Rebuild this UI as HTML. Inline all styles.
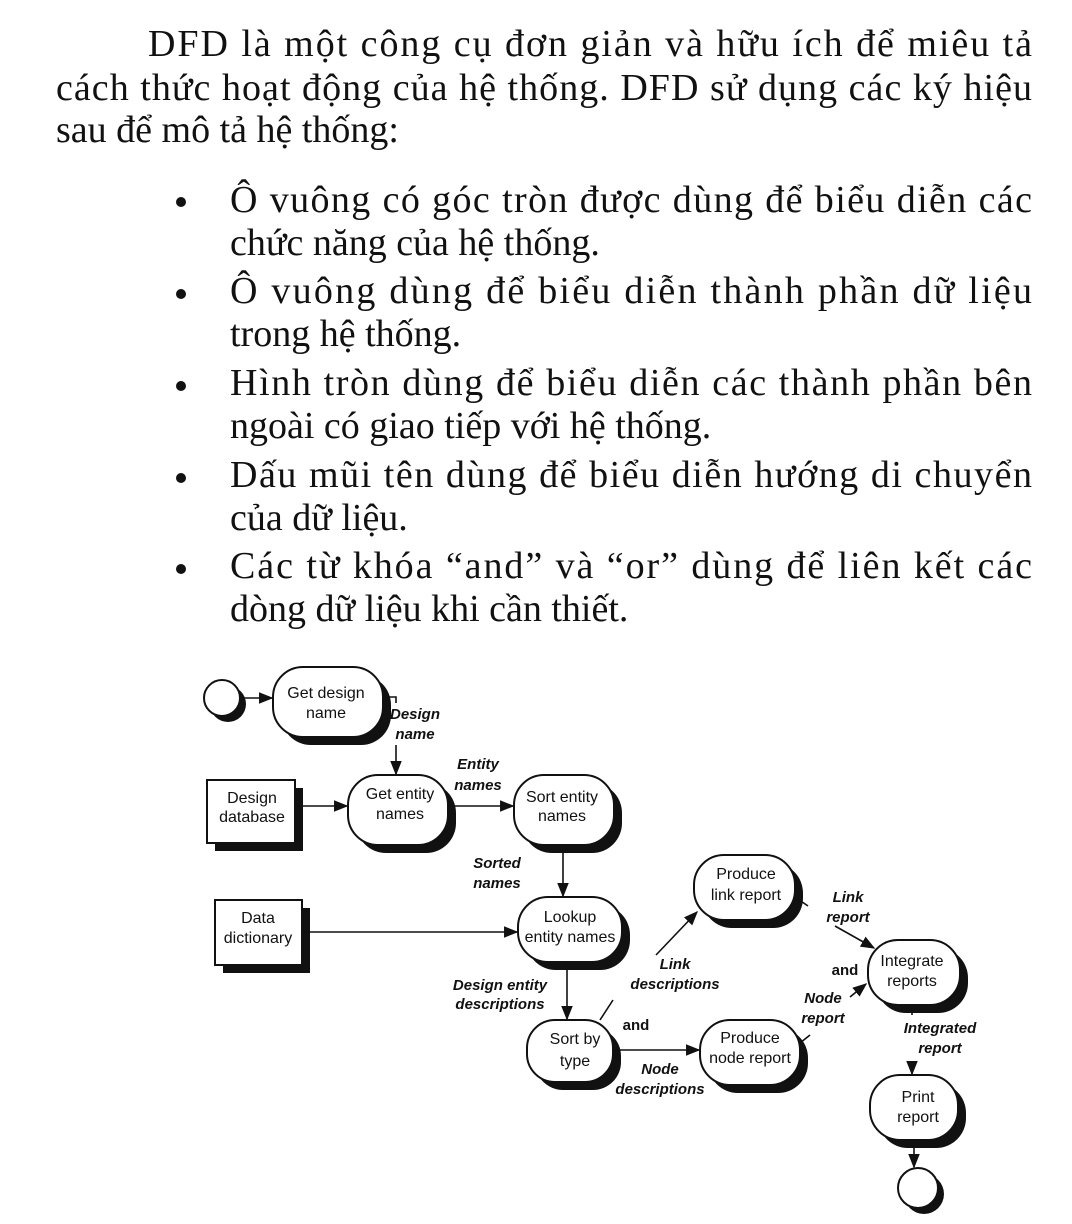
<!DOCTYPE html>
<html><head><meta charset="utf-8"><style>
body{margin:0;background:#fff}
svg{display:block}
.t{font-family:"Liberation Serif","DejaVu Serif",serif;font-size:38px;fill:#111}
.n{font-family:"Liberation Sans",sans-serif;font-size:16px;fill:#111;text-anchor:middle}
.l{font-family:"Liberation Sans",sans-serif;font-size:15px;font-style:italic;font-weight:bold;fill:#111;text-anchor:middle}
.a{font-family:"Liberation Sans",sans-serif;font-size:15px;font-weight:bold;fill:#111;text-anchor:middle}
</style></head><body>
<svg width="1072" height="1224" viewBox="0 0 1072 1224" xmlns="http://www.w3.org/2000/svg">
<defs><marker id="ar" viewBox="0 0 10 10" refX="9" refY="5" markerWidth="9" markerHeight="9" orient="auto-start-reverse"><path d="M0,1 L10,5 L0,9 z" fill="#111"/></marker></defs>
<text class="t" x="148" y="56" textLength="884" lengthAdjust="spacing">DFD là một công cụ đơn giản và hữu ích để miêu tả</text>
<text class="t" x="56" y="100" textLength="976" lengthAdjust="spacing">cách thức hoạt động của hệ thống. DFD sử dụng các ký hiệu</text>
<text class="t" x="56" y="142">sau để mô tả hệ thống:</text>
<g fill="#111"><circle cx="181" cy="202" r="5"/><circle cx="181" cy="294" r="5"/><circle cx="181" cy="386" r="5"/><circle cx="181" cy="478" r="5"/><circle cx="181" cy="569" r="5"/></g>
<text class="t" x="230" y="212" textLength="802" lengthAdjust="spacing">Ô vuông có góc tròn  được dùng để biểu diễn các</text>
<text class="t" x="230" y="255">chức năng của hệ thống.</text>
<text class="t" x="230" y="303" textLength="802" lengthAdjust="spacing">Ô vuông dùng để biểu diễn thành phần dữ liệu</text>
<text class="t" x="230" y="346">trong hệ thống.</text>
<text class="t" x="230" y="395" textLength="802" lengthAdjust="spacing">Hình tròn dùng để biểu diễn các thành phần bên</text>
<text class="t" x="230" y="438">ngoài có giao tiếp với hệ thống.</text>
<text class="t" x="230" y="487" textLength="802" lengthAdjust="spacing">Dấu mũi tên dùng để biểu diễn hướng di chuyển</text>
<text class="t" x="230" y="530">của dữ liệu.</text>
<text class="t" x="230" y="578" textLength="802" lengthAdjust="spacing">Các từ khóa “and” và “or” dùng để liên kết các</text>
<text class="t" x="230" y="621">dòng dữ liệu khi cần thiết.</text>

<g stroke="#111" stroke-width="2" fill="#fff">
<g fill="#111" stroke="none">
<circle cx="228" cy="704" r="18"/>
<rect x="281" y="675" width="110" height="70" rx="30"/>
<rect x="215" y="788" width="88" height="63"/>
<rect x="356" y="783" width="100" height="70" rx="30"/>
<rect x="522" y="783" width="100" height="70" rx="30"/>
<rect x="223" y="908" width="87" height="65"/>
<rect x="526" y="905" width="104" height="65" rx="30"/>
<rect x="535" y="1028" width="86" height="62" rx="28"/>
<rect x="702" y="863" width="101" height="65" rx="30"/>
<rect x="876" y="948" width="92" height="65" rx="30"/>
<rect x="708" y="1028" width="100" height="65" rx="30"/>
<rect x="878" y="1083" width="88" height="65" rx="30"/>
<circle cx="924" cy="1194" r="20"/>
</g>
<circle cx="222" cy="698" r="18"/>
<rect x="273" y="667" width="110" height="70" rx="30"/>
<rect x="207" y="780" width="88" height="63"/>
<rect x="348" y="775" width="100" height="70" rx="30"/>
<rect x="514" y="775" width="100" height="70" rx="30"/>
<rect x="215" y="900" width="87" height="65"/>
<rect x="518" y="897" width="104" height="65" rx="30"/>
<rect x="527" y="1020" width="86" height="62" rx="28"/>
<rect x="694" y="855" width="101" height="65" rx="30"/>
<rect x="868" y="940" width="92" height="65" rx="30"/>
<rect x="700" y="1020" width="100" height="65" rx="30"/>
<rect x="870" y="1075" width="88" height="65" rx="30"/>
<circle cx="918" cy="1188" r="20"/>
</g>
<g stroke="#111" stroke-width="1.6" fill="none">
<line x1="240" y1="698" x2="272" y2="698" marker-end="url(#ar)"/>
<polyline points="383,697 396,697 396,703"/>
<line x1="396" y1="745" x2="396" y2="774" marker-end="url(#ar)"/>
<line x1="295" y1="806" x2="347" y2="806" marker-end="url(#ar)"/>
<line x1="448" y1="806" x2="513" y2="806" marker-end="url(#ar)"/>
<line x1="563" y1="845" x2="563" y2="896" marker-end="url(#ar)"/>
<line x1="302" y1="932" x2="517" y2="932" marker-end="url(#ar)"/>
<line x1="567" y1="962" x2="567" y2="1019" marker-end="url(#ar)"/>
<line x1="600" y1="1020" x2="613" y2="1000"/>
<line x1="656" y1="955" x2="697" y2="912" marker-end="url(#ar)"/>
<line x1="795" y1="897" x2="808" y2="906"/>
<line x1="835" y1="926" x2="874" y2="948" marker-end="url(#ar)"/>
<line x1="613" y1="1050" x2="699" y2="1050" marker-end="url(#ar)"/>
<line x1="800" y1="1043" x2="810" y2="1035"/>
<line x1="850" y1="997" x2="866" y2="984" marker-end="url(#ar)"/>
<line x1="912" y1="1005" x2="912" y2="1015"/>
<line x1="912" y1="1062" x2="912" y2="1074" marker-end="url(#ar)"/>
<line x1="914" y1="1140" x2="914" y2="1167" marker-end="url(#ar)"/>
</g>
<text class="n" x="326" y="698">Get design</text><text class="n" x="326" y="718">name</text>
<text class="n" x="252" y="803">Design</text><text class="n" x="252" y="822">database</text>
<text class="n" x="400" y="799">Get entity</text><text class="n" x="400" y="819">names</text>
<text class="n" x="562" y="802">Sort entity</text><text class="n" x="562" y="821">names</text>
<text class="n" x="258" y="923">Data</text><text class="n" x="258" y="943">dictionary</text>
<text class="n" x="570" y="922">Lookup</text><text class="n" x="570" y="942">entity names</text>
<text class="n" x="575" y="1044">Sort by</text><text class="n" x="575" y="1066">type</text>
<text class="n" x="746" y="879">Produce</text><text class="n" x="746" y="900">link report</text>
<text class="n" x="912" y="966">Integrate</text><text class="n" x="912" y="986">reports</text>
<text class="n" x="750" y="1043">Produce</text><text class="n" x="750" y="1063">node report</text>
<text class="n" x="918" y="1102">Print</text><text class="n" x="918" y="1122">report</text>
<text class="l" x="415" y="719">Design</text><text class="l" x="415" y="739">name</text>
<text class="l" x="478" y="769">Entity</text><text class="l" x="478" y="790">names</text>
<text class="l" x="497" y="868">Sorted</text><text class="l" x="497" y="888">names</text>
<text class="l" x="500" y="990">Design entity</text><text class="l" x="500" y="1009">descriptions</text>
<text class="l" x="675" y="969">Link</text><text class="l" x="675" y="989">descriptions</text>
<text class="l" x="848" y="902">Link</text><text class="l" x="848" y="922">report</text>
<text class="l" x="823" y="1003">Node</text><text class="l" x="823" y="1023">report</text>
<text class="l" x="660" y="1074">Node</text><text class="l" x="660" y="1094">descriptions</text>
<text class="l" x="940" y="1033">Integrated</text><text class="l" x="940" y="1053">report</text>
<text class="a" x="845" y="975">and</text>
<text class="a" x="636" y="1030">and</text>
</svg>
</body></html>
